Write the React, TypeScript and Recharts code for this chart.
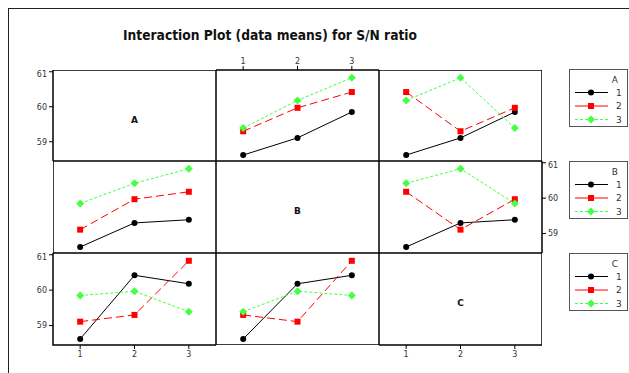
import React from 'react'
import { LineChart, Line, XAxis, YAxis, ReferenceArea } from 'recharts'

// factor levels and ticks
const levels = [1, 2, 3]
const xTicks = [1, 2, 3]
const yTicks = [59, 60, 61]
const levelLabels = ['1', '2', '3']
const yDomain: [number, number] = [58.45, 61.05]

// each array: one line per level of the legend factor, values at x levels 1..3
const aOverB = [
  [58.62, 59.11, 59.85],
  [59.3, 59.97, 60.42],
  [59.39, 60.18, 60.83],
]
const aOverC = [
  [58.62, 59.11, 59.85],
  [60.42, 59.3, 59.97],
  [60.18, 60.83, 59.39],
]
const bOverA = [
  [58.62, 59.3, 59.39],
  [59.11, 59.97, 60.18],
  [59.85, 60.42, 60.83],
]
const bOverC = [
  [58.62, 59.3, 59.39],
  [60.18, 59.11, 59.97],
  [60.42, 60.83, 59.85],
]
const cOverA = [
  [58.62, 60.42, 60.18],
  [59.11, 59.3, 60.83],
  [59.85, 59.97, 59.39],
]
const cOverB = [
  [58.62, 60.18, 60.42],
  [59.3, 59.11, 60.83],
  [59.39, 59.97, 59.85],
]

// panel grid, page coords (body margin removed below)
const colX = [53, 216, 379, 542]
const rowY = [70, 161, 253, 345]

const RED = '#ff0000'
const GREEN = '#44ff44'

const renderCircle = (p: any) => (
  <circle key={`c${p.index}`} cx={p.cx} cy={p.cy} r={3} fill="#000" />
)
const renderSquare = (p: any) => (
  <rect key={`s${p.index}`} x={p.cx - 3} y={p.cy - 3} width={6} height={6} fill={RED} />
)
const renderDiamond = (p: any) => (
  <polygon
    key={`d${p.index}`}
    points={`${p.cx},${p.cy - 4} ${p.cx + 4},${p.cy} ${p.cx},${p.cy + 4} ${p.cx - 4},${p.cy}`}
    fill={GREEN}
  />
)

const lineStyles = [
  { stroke: '#000', dash: undefined as string | undefined, dot: renderCircle },
  { stroke: RED, dash: '8 4', dot: renderSquare },
  { stroke: GREEN, dash: '3 2', dot: renderDiamond },
]

interface PanelProps {
  row: number
  col: number
  series?: number[][]
  left?: boolean
  right?: boolean
  top?: boolean
  bottom?: boolean
  label?: string
}

const tickStyle = { fill: '#333', fontSize: 8 }

function Panel({ row, col, series, left, right, top, bottom, label }: PanelProps) {
  const x = colX[col]
  const y = rowY[row]
  const w = colX[col + 1] - x
  const h = rowY[row + 1] - y
  const L = left ? 30 : 0
  const R = right ? 30 : 0
  const T = top ? 16 : 0
  const B = bottom ? 18 : 0
  const data = levels.map((lv, i) => ({
    x: lv,
    s0: series ? series[0][i] : null,
    s1: series ? series[1][i] : null,
    s2: series ? series[2][i] : null,
  }))

  return (
    <div style={{ position: 'absolute', left: x - L, top: y - T }}>
      <LineChart width={w + L + R} height={h + T + B} data={data} margin={{ top: 0, right: 0, bottom: 0, left: 0 }}>
        <XAxis
          type="number"
          dataKey="x"
          domain={[0.5, 3.5]}
          ticks={xTicks}
          orientation={top ? 'top' : 'bottom'}
          hide={!top && !bottom}
          height={top ? T : B || 18}
          axisLine={false}
          tickLine={{ stroke: '#000' }}
          tickSize={4}
          tick={tickStyle}
          allowDataOverflow
        />
        <YAxis
          type="number"
          domain={yDomain}
          ticks={yTicks}
          orientation={right ? 'right' : 'left'}
          hide={!left && !right}
          width={left ? L : R || 30}
          axisLine={false}
          tickLine={{ stroke: '#000' }}
          tickSize={4}
          tick={tickStyle}
          allowDataOverflow
        />
        <ReferenceArea
          x1={0.5}
          x2={3.5}
          y1={yDomain[0]}
          y2={yDomain[1]}
          fill="none"
          fillOpacity={0}
          stroke="#000"
          strokeWidth={1.5}
          ifOverflow="visible"
        />
        {series &&
          lineStyles.map((st, i) => (
            <Line
              key={i}
              type="linear"
              dataKey={`s${i}`}
              stroke={st.stroke}
              strokeWidth={1}
              strokeDasharray={st.dash}
              dot={st.dot}
              activeDot={false}
              isAnimationActive={false}
            />
          ))}
      </LineChart>
      {label && (
        <div
          style={{
            position: 'absolute',
            left: L,
            top: T + 4,
            width: w,
            height: h,
            display: 'flex',
            alignItems: 'center',
            justifyContent: 'center',
            fontWeight: 'bold',
            fontSize: 9,
            color: '#111',
          }}
        >
          {label}
        </div>
      )}
    </div>
  )
}

function LegendBox({ name, top }: { name: string; top: number }) {
  return (
    <div
      style={{
        position: 'absolute',
        left: 569,
        top,
        width: 57,
        height: 56,
        border: '1px solid #555',
        background: '#fff',
      }}
    >
      <svg width={57} height={56} style={{ display: 'block' }}>
        <text x={48} y={13} textAnchor="end" fontSize={9} fill="#333">
          {name}
        </text>
        {lineStyles.map((st, i) => {
          const cy = 22.5 + i * 13.5
          return (
            <g key={i}>
              <line x1={5} x2={38} y1={cy} y2={cy} stroke={st.stroke} strokeDasharray={i === 2 ? st.dash : undefined} />
              {st.dot({ cx: 21, cy, index: i })}
              <text x={46} y={cy + 3} fontSize={9} fill="#333">
                {levelLabels[i]}
              </text>
            </g>
          )
        })}
      </svg>
    </div>
  )
}

export default function App() {
  return (
    <div
      style={{
        position: 'relative',
        width: 629,
        height: 373,
        overflow: 'hidden',
        fontFamily: '"DejaVu Sans", sans-serif',
        background: '#fff',
      }}
    >
      <style>{'body { margin: 0; }'}</style>
      <div
        style={{
          position: 'absolute',
          left: 8,
          top: 8,
          width: 640,
          height: 400,
          borderTop: '1px solid #222',
          borderLeft: '1px solid #222',
        }}
      />
      <svg style={{ position: 'absolute', left: 0, top: 0 }} width={629} height={60}>
        <text x={270} y={40} textAnchor="middle" fontSize={14} fontWeight="bold" fill="#111" textLength={294} lengthAdjust="spacingAndGlyphs">
          Interaction Plot (data means) for S/N ratio
        </text>
      </svg>

      <Panel row={0} col={0} left label="A" />
      <Panel row={0} col={1} top series={aOverB} />
      <Panel row={0} col={2} series={aOverC} />
      <Panel row={1} col={0} series={bOverA} />
      <Panel row={1} col={1} label="B" />
      <Panel row={1} col={2} right series={bOverC} />
      <Panel row={2} col={0} left bottom series={cOverA} />
      <Panel row={2} col={1} series={cOverB} />
      <Panel row={2} col={2} bottom label="C" />

      <LegendBox name="A" top={69} />
      <LegendBox name="B" top={161} />
      <LegendBox name="C" top={253} />
    </div>
  )
}
